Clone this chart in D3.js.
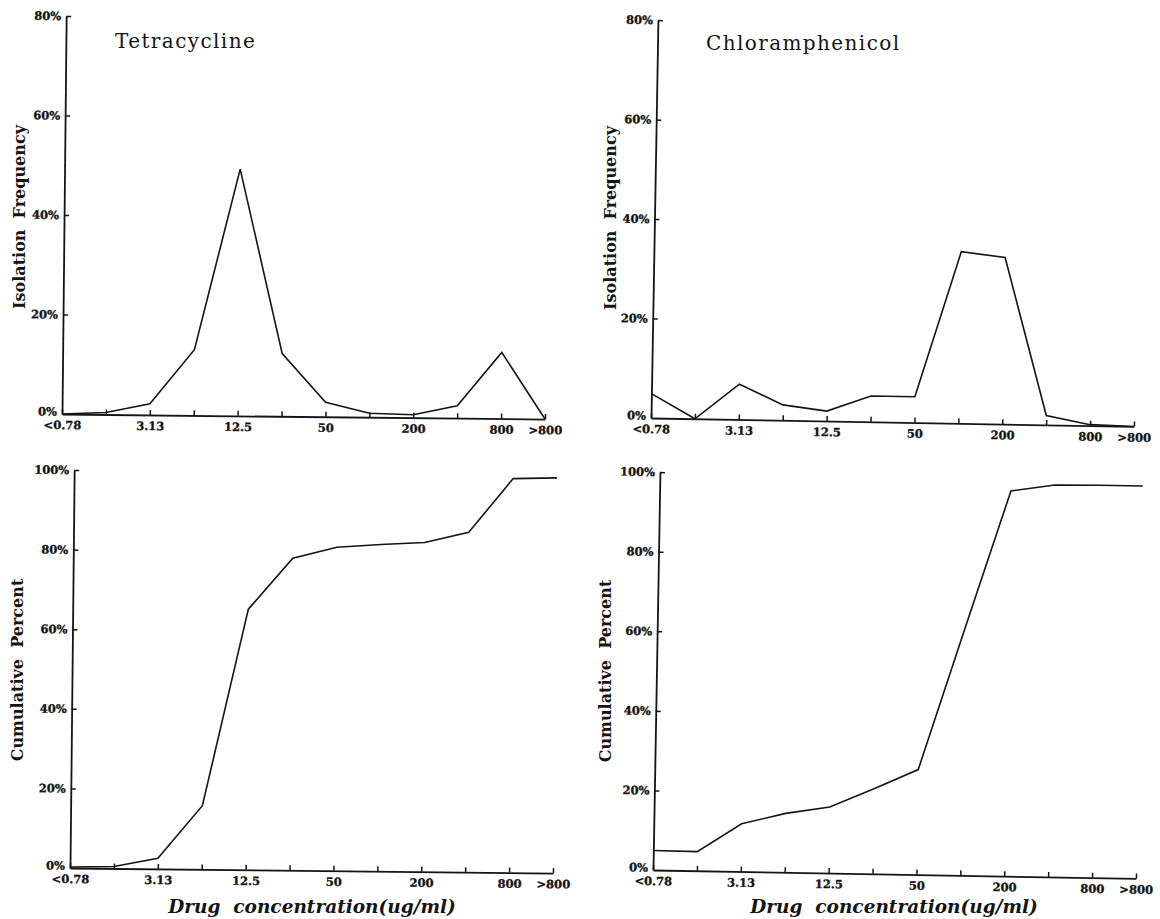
<!DOCTYPE html>
<html>
<head>
<meta charset="utf-8">
<script src="https://cdn.jsdelivr.net/npm/d3@7"></script>
<style>
  html, body { margin: 0; padding: 0; background: #fff; }
  svg { display: block; }
</style>
</head>
<body>
<svg id="chart" width="1160" height="919"></svg>
<script>
// MIC categories (ug/ml), two-fold dilution series
const categories = ["<0.78", "1.56", "3.13", "6.25", "12.5", "25", "50", "100", "200", "400", "800", ">800"];
const shownLabels = ["<0.78", "3.13", "12.5", "50", "200", "800", ">800"];

// Isolation frequency (%) per concentration
const tetraFreq = [0, 0.4, 2.25, 13.2, 49.6, 12.6, 2.9, 0.8, 0.6, 2.5, 13.3, 0];
const chlorFreq = [4.9, 0, 7.1, 3.1, 2.0, 5.2, 5.2, 34.5, 33.5, 1.9, 0.2, 0];

// Cumulative percent per concentration
const tetraCum = [0.25, 0.5, 2.7, 16.0, 65.5, 78.4, 81.3, 82.1, 82.7, 85.4, 99.0, 99.3];
const chlorCum = [4.9, 4.8, 12.0, 14.8, 16.6, 21.4, 26.4, 61.8, 96.8, 98.5, 98.6, 98.6];

const freqTicks = [0, 20, 40, 60, 80];
const cumTicks = [0, 20, 40, 60, 80, 100];

const svg = d3.select("#chart");
const W = 483, H = 398;
const INK = "#141414";

const panels = [
  { ox: 62,  oy: 414, tilt: 0.6, values: tetraFreq, max: 80,  ticks: freqTicks },
  { ox: 651, oy: 418, tilt: 1.0, values: chlorFreq, max: 80,  ticks: freqTicks },
  { ox: 70,  oy: 868, tilt: 0.6, values: tetraCum,  max: 100, ticks: cumTicks },
  { ox: 653, oy: 870, tilt: 1.0, values: chlorCum,  max: 100, ticks: cumTicks }
];

panels.forEach(p => {
  const g = svg.append("g")
    .attr("transform", `translate(${p.ox},${p.oy}) rotate(${p.tilt})`);

  const x = d3.scalePoint().domain(categories).range([0, W]);
  const y = d3.scaleLinear().domain([0, p.max]).range([0, -H]);

  const xAxis = g.append("g")
    .call(d3.axisBottom(x)
      .tickSize(-5)
      .tickSizeOuter(0)
      .tickPadding(7)
      .tickFormat(d => shownLabels.includes(d) ? d : ""));

  const yAxis = g.append("g")
    .call(d3.axisLeft(y)
      .tickValues(p.ticks)
      .tickSize(-5)
      .tickSizeOuter(0)
      .tickPadding(5)
      .tickFormat(d => d + "%"));

  [xAxis, yAxis].forEach(a => {
    a.attr("font-family", null).attr("font-size", null);
    a.select(".domain").attr("stroke", INK).attr("stroke-width", 1.8);
    a.selectAll(".tick line").attr("stroke", INK).attr("stroke-width", 1.5);
    a.selectAll(".tick text")
      .attr("fill", INK)
      .attr("stroke", INK)
      .attr("stroke-width", 0.35)
      .style("font-family", "'DejaVu Serif', serif")
      .style("font-weight", "bold")
      .style("font-size", "11.5px");
  });
  yAxis.selectAll(".tick").filter(d => d === 0).select("line").remove();
  yAxis.selectAll(".tick").filter(d => d === 0).select("text").attr("dy", "0.1em");

  const line = d3.line()
    .x((d, i) => x(categories[i]))
    .y(d => y(d));

  g.append("path")
    .datum(p.values)
    .attr("fill", "none")
    .attr("stroke", INK)
    .attr("stroke-width", 1.6)
    .attr("stroke-linejoin", "miter")
    .attr("d", line);
});

// Drug names
const titleStyle = s => s
  .attr("fill", INK)
  .style("font-family", "'DejaVu Serif', serif")
  .style("font-size", "20px")
  .style("letter-spacing", "1.4px");

svg.append("text").attr("x", 115).attr("y", 48).text("Tetracycline").call(titleStyle);
svg.append("text").attr("x", 706).attr("y", 50).text("Chloramphenicol").call(titleStyle);

// Vertical axis titles
const yTitles = [
  { x: 25,  y: 217, text: "Isolation\u00a0\u00a0Frequency" },
  { x: 616, y: 218, text: "Isolation\u00a0\u00a0Frequency" },
  { x: 23,  y: 670, text: "Cumulative\u00a0\u00a0Percent" },
  { x: 611, y: 671, text: "Cumulative\u00a0\u00a0Percent" }
];
yTitles.forEach(t => {
  svg.append("text")
    .attr("transform", `translate(${t.x},${t.y}) rotate(-90)`)
    .attr("text-anchor", "middle")
    .attr("fill", INK)
    .style("font-family", "'DejaVu Serif', serif")
    .style("font-weight", "bold")
    .style("font-size", "16px")
    .text(t.text);
});

// Horizontal axis titles
[312, 894].forEach(cx => {
  svg.append("text")
    .attr("x", cx)
    .attr("y", 913)
    .attr("text-anchor", "middle")
    .attr("fill", INK)
    .style("font-family", "'DejaVu Serif', serif")
    .style("font-weight", "bold")
    .style("font-style", "italic")
    .style("font-size", "18.5px")
    .text("Drug\u00a0\u00a0concentration(ug/ml)");
});
</script>
</body>
</html>
